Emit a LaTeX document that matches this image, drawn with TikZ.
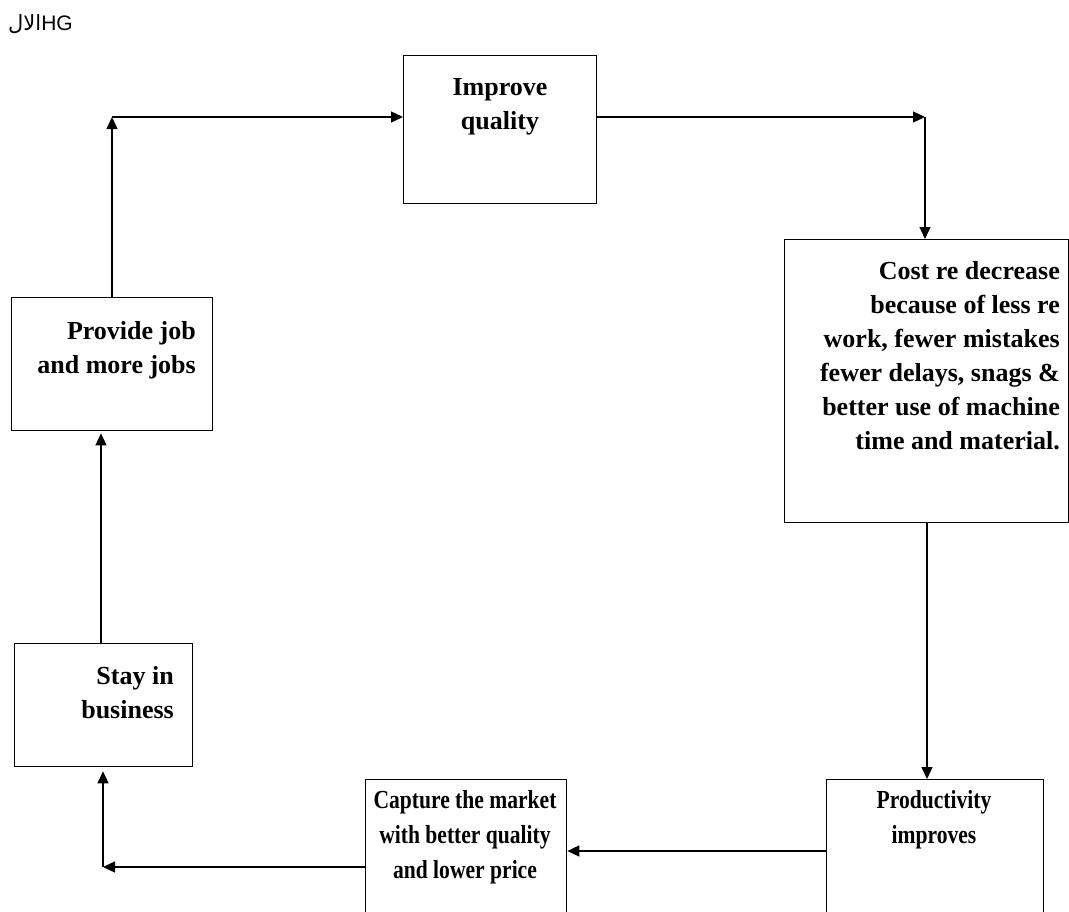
\documentclass[tikz,border=0pt]{standalone}
\usepackage{fontspec}
\setmainfont{Liberation Serif}
\newfontfamily\narrowserif[FakeStretch=0.83]{Liberation Serif}
\newfontfamily\arabicfont[Script=Arabic]{DejaVu Sans}
\newfontfamily\headsans{Liberation Sans}
\TeXXeTstate=1
\usetikzlibrary{arrows.meta}
\begin{document}
\begin{tikzpicture}[x=1pt,y=-1pt,
  box/.style={draw, line width=1.3pt, rectangle, inner sep=0pt, anchor=north west},
  lbl/.style={inner sep=0pt, font=\bfseries\fontsize{26}{34}\selectfont},
  narrowlbl/.style={inner sep=0pt, font=\narrowserif\bfseries\fontsize{26}{35}\selectfont},
  arr/.style={line width=1.3pt, -{Triangle[length=12pt,width=11pt]}}]
\useasboundingbox (0,0) rectangle (1069,911);

% header
\node[inner sep=0pt, anchor=base west] (hdr) at (8,30)
  {\fontsize{21}{24}\selectfont{\arabicfont\beginR الال\endR}{\headsans HG}};

% boxes
\node[box, minimum width=193pt, minimum height=148pt] (imp)  at (403,55)  {};
\node[box, minimum width=284pt, minimum height=283pt] (cost) at (784,239) {};
\node[box, minimum width=201pt, minimum height=133pt] (prov) at (11,297)  {};
\node[box, minimum width=178pt, minimum height=123pt] (stay) at (14,643)  {};
\node[box, minimum width=201pt, minimum height=150pt] (cap)  at (365,779) {};
\node[box, minimum width=217pt, minimum height=150pt] (prod) at (826,779) {};

% box texts
\node[lbl, align=center, anchor=north] (timp) at (500,78) {Improve\\quality};
\node[lbl, align=right, anchor=north east] (tcost) at (1060,261)
  {Cost re decrease\\because of less re\\work, fewer mistakes\\fewer delays, snags \&\\better use of machine\\time and material.};
\node[lbl, align=right, anchor=north east] (tprov) at (196,321) {Provide job\\and more jobs};
\node[lbl, align=right, anchor=north east] (tstay) at (174,666) {Stay in\\business\hspace{6pt}};
\node[narrowlbl, align=center, anchor=north] (tcap) at (465,790)
  {Capture the market\\with better quality\\and lower price};
\node[narrowlbl, align=center, anchor=north] (tprod) at (934,790) {Productivity\\improves};

% bends of the loop
\coordinate (p1) at (112,117);
\coordinate (p2) at (925,117);
\coordinate (p3) at (927,600);
\coordinate (p4) at (103,867);
\coordinate (p5) at (700,851);
\coordinate (p6) at (101,550);

% connectors
\draw[arr] (prov.north -| p1) -- (p1);
\draw[arr] (p1) -- (imp.west |- p1);
\draw[arr] (imp.east |- p2) -- (p2);
\draw[arr] (p2) -- (cost.north -| p2);
\draw[arr] (cost.south -| p3) -- (prod.north -| p3);
\draw[arr] (prod.west |- p5) -- (cap.east |- p5);
\draw[arr] (cap.west |- p4) -- (p4);
\draw[arr, shorten >=4pt] (p4) -- (stay.south -| p4);
\draw[arr, shorten >=2pt] (stay.north -| p6) -- (prov.south -| p6);
\end{tikzpicture}
\end{document}
